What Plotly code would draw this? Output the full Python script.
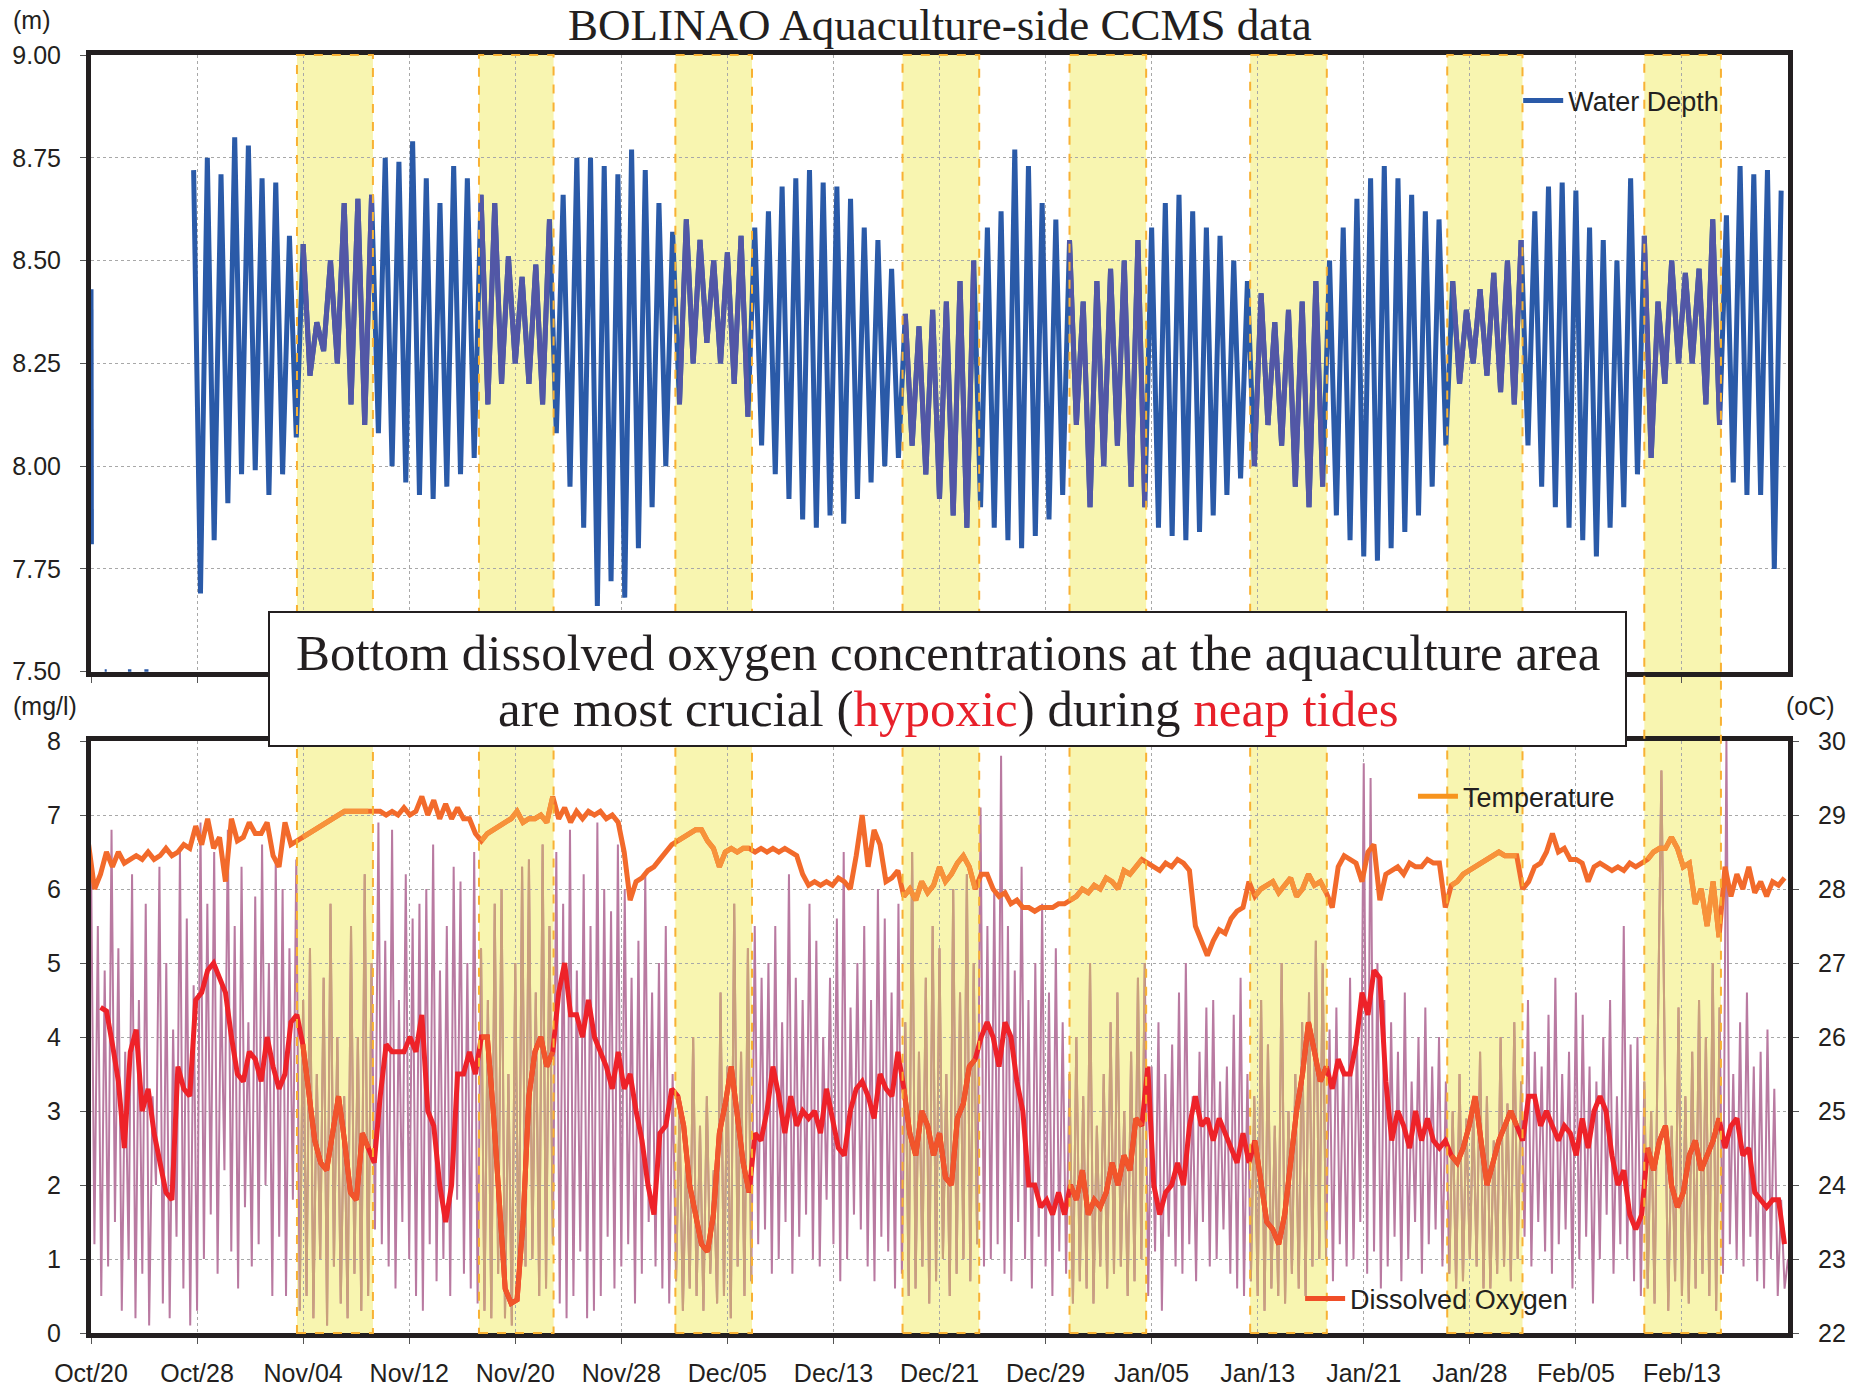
import pandas as pd
import plotly.graph_objects as go

# ---------------- data ----------------
T0 = pd.Timestamp("2012-10-20")
AXIS_END_DAY = 124.0

tick_labels = ["Oct/20", "Oct/28", "Nov/04", "Nov/12", "Nov/20", "Nov/28", "Dec/05", "Dec/13",
               "Dec/21", "Dec/29", "Jan/05", "Jan/13", "Jan/21", "Jan/28", "Feb/05", "Feb/13"]
tick_days = [0.0, 7.75, 15.5, 23.25, 31.0, 38.75, 46.5, 54.25,
             62.0, 69.75, 77.5, 85.25, 93.0, 100.75, 108.5, 116.25]

# neap-tide periods (days since Oct/20)
neap_start_day = [15.05, 28.35, 42.7, 59.3, 71.5, 84.7, 99.1, 113.5]
neap_end_day = [20.6, 33.8, 48.3, 64.9, 77.1, 90.3, 104.6, 119.1]

# water depth (m): first short record, then tidal highs/lows every half day
depth_early_day = [0.0, 0.03, None, 1.0, 1.15, None, 2.7, 2.95, None, 3.9, 4.2, None]
depth_early_m = [8.43, 7.81, None, 7.5, 7.5, None, 7.5, 7.5, None, 7.5, 7.5, None]
depth_tide_start_day = 7.5
depth_tide_step_day = 0.5
depth_tide_m = [
    8.72, 7.69, 8.75, 7.82, 8.71, 7.91, 8.80, 7.98, 8.78, 7.99, 8.70, 7.93, 8.69, 7.98, 8.56, 8.07,
    8.54, 8.22, 8.35, 8.28, 8.50, 8.25, 8.64, 8.15, 8.65, 8.10, 8.66, 8.08, 8.75, 8.00, 8.74, 7.96,
    8.79, 7.93, 8.70, 7.92, 8.64, 7.95, 8.73, 7.98, 8.70, 8.02, 8.66, 8.15, 8.64, 8.20, 8.51, 8.25,
    8.46, 8.20, 8.49, 8.15, 8.60, 8.08, 8.66, 7.95, 8.75, 7.85, 8.75, 7.66, 8.73, 7.72, 8.71, 7.68,
    8.77, 7.80, 8.72, 7.90, 8.64, 8.00, 8.57, 8.15, 8.60, 8.25, 8.55, 8.30, 8.50, 8.25, 8.52, 8.20,
    8.56, 8.12, 8.58, 8.05, 8.62, 7.98, 8.68, 7.92, 8.70, 7.87, 8.72, 7.85, 8.69, 7.88, 8.68, 7.86,
    8.65, 7.92, 8.58, 7.96, 8.55, 8.00, 8.48, 8.02, 8.37, 8.05, 8.34, 7.98, 8.38, 7.92, 8.40, 7.88,
    8.45, 7.85, 8.50, 7.90, 8.58, 7.85, 8.62, 7.82, 8.77, 7.80, 8.73, 7.83, 8.64, 7.87, 8.60, 7.93,
    8.55, 8.10, 8.40, 7.90, 8.45, 8.00, 8.48, 8.05, 8.50, 7.95, 8.55, 7.90, 8.58, 7.85, 8.64, 7.83,
    8.66, 7.82, 8.62, 7.84, 8.58, 7.88, 8.56, 7.93, 8.50, 7.97, 8.45, 8.00, 8.42, 8.10, 8.35, 8.05,
    8.38, 7.95, 8.40, 7.90, 8.45, 7.95, 8.50, 7.88, 8.58, 7.82, 8.65, 7.78, 8.70, 7.77, 8.73, 7.80,
    8.70, 7.84, 8.66, 7.88, 8.62, 7.95, 8.60, 8.05, 8.45, 8.20, 8.38, 8.25, 8.43, 8.22, 8.47, 8.18,
    8.50, 8.15, 8.55, 8.05, 8.62, 7.95, 8.68, 7.90, 8.69, 7.85, 8.67, 7.82, 8.58, 7.78, 8.55, 7.85,
    8.50, 7.90, 8.70, 7.98, 8.56, 8.02, 8.40, 8.20, 8.50, 8.25, 8.47, 8.25, 8.48, 8.15, 8.60, 8.10,
    8.61, 7.96, 8.73, 7.93, 8.71, 7.93, 8.72, 7.75, 8.67,
]

# raw bottom dissolved oxygen (mg/l), four readings per day
do_raw_start_day = 0.0
do_raw_step_day = 0.25
do_raw = [
    6.5, 1.2, 5.5, 0.5, 4.9, 0.9, 6.8, 1.5, 5.2, 0.3, 3.8, 1.0, 6.2, 0.2, 4.5, 0.8,
    5.8, 0.1, 3.2, 2.0, 6.3, 0.4, 5.0, 0.2, 4.1, 1.3, 6.5, 0.6, 5.6, 0.1, 4.7, 0.3,
    6.9, 1.0, 5.8, 1.6, 6.5, 0.8, 4.8, 2.2, 6.8, 1.1, 5.5, 0.6, 6.3, 1.7, 4.2, 0.9,
    5.9, 1.2, 6.6, 2.0, 5.0, 0.5, 6.4, 1.3, 6.0, 0.5, 5.2, 1.8, 6.4, 0.3, 4.5, 0.5,
    5.2, 0.2, 3.5, 1.0, 4.8, 0.1, 5.8, 0.9, 4.0, 0.4, 3.2, 0.2, 5.5, 0.8, 4.0, 0.3,
    6.2, 0.5, 5.0, 1.4, 6.9, 1.2, 5.3, 0.9, 6.8, 0.6, 4.5, 1.5, 6.2, 1.0, 5.6, 0.5,
    5.8, 0.3, 6.0, 1.2, 6.6, 0.7, 4.9, 1.0, 5.5, 0.5, 6.3, 1.8, 6.1, 0.8, 5.0, 0.6,
    6.5, 0.4, 5.2, 0.3, 4.5, 0.2, 5.8, 0.8, 6.0, 0.2, 3.5, 0.1, 5.0, 0.5, 6.3, 0.9,
    6.4, 1.0, 4.6, 0.5, 6.6, 0.6, 5.5, 1.2, 6.5, 0.4, 5.8, 0.2, 6.8, 0.5, 4.9, 1.1,
    6.2, 0.2, 5.5, 0.3, 6.9, 0.5, 6.0, 1.3, 5.7, 0.6, 6.6, 0.9, 6.0, 1.2, 4.8, 0.4,
    5.3, 0.8, 6.2, 1.5, 4.6, 0.9, 5.0, 0.6, 5.5, 0.4, 3.5, 0.7, 3.0, 0.3, 2.5, 0.6,
    4.0, 0.5, 2.8, 0.3, 3.2, 0.8, 2.2, 0.4, 4.6, 0.5, 3.6, 0.2, 5.8, 0.9, 3.8, 0.5,
    5.2, 0.7, 5.5, 1.2, 4.8, 1.4, 5.0, 0.8, 5.5, 1.0, 4.2, 1.5, 6.2, 0.8, 4.8, 1.3,
    4.5, 1.6, 5.8, 1.0, 5.3, 0.9, 4.0, 1.8, 4.8, 1.2, 5.6, 0.7, 6.5, 1.0, 4.4, 1.6,
    5.0, 1.4, 5.5, 0.9, 4.5, 0.7, 6.0, 1.3, 5.6, 1.1, 4.6, 0.6, 5.8, 0.8, 4.2, 0.5,
    6.5, 0.6, 3.8, 0.9, 4.8, 0.4, 5.5, 0.7, 5.2, 1.0, 3.5, 0.5, 6.0, 0.8, 4.6, 1.0,
    6.2, 0.7, 5.0, 1.2, 7.1, 0.9, 5.5, 1.0, 6.0, 1.2, 7.8, 0.8, 5.5, 0.7, 4.9, 1.5,
    6.3, 1.0, 4.5, 0.6, 5.0, 1.3, 5.8, 0.9, 4.6, 0.5, 5.2, 1.1, 4.2, 0.8, 3.5, 0.4,
    4.0, 0.7, 3.2, 0.6, 5.0, 0.4, 2.8, 0.9, 3.5, 0.6, 4.2, 0.8, 4.6, 0.9, 3.0, 0.5,
    3.8, 0.7, 4.8, 1.0, 5.0, 0.5, 3.6, 1.1, 4.2, 0.3, 3.5, 1.3, 3.9, 0.9, 4.6, 0.8,
    5.0, 1.2, 3.2, 0.7, 3.8, 1.5, 4.4, 0.9, 4.5, 1.0, 3.4, 1.4, 3.6, 0.8, 4.3, 0.6,
    4.8, 0.5, 3.5, 0.7, 3.2, 0.5, 4.5, 0.3, 3.9, 0.6, 2.8, 0.5, 5.0, 0.4, 3.0, 0.8,
    3.5, 0.6, 4.2, 0.5, 4.6, 0.9, 5.3, 1.0, 5.0, 1.0, 4.1, 0.7, 4.4, 1.2, 3.6, 0.9,
    4.8, 1.0, 4.0, 1.5, 7.7, 0.8, 7.5, 1.1, 5.0, 0.6, 4.5, 0.9, 4.2, 1.3, 3.8, 0.7,
    4.6, 1.0, 3.4, 1.5, 4.0, 0.8, 4.4, 1.2, 3.6, 1.4, 4.0, 0.9, 3.4, 0.8, 3.0, 0.6,
    3.5, 0.7, 2.9, 1.0, 3.0, 0.9, 3.8, 0.6, 3.2, 0.6, 2.6, 0.8, 4.0, 0.9, 3.1, 0.7,
    4.2, 1.0, 3.4, 1.3, 4.5, 0.9, 3.8, 1.5, 3.6, 1.1, 4.3, 0.8, 4.8, 1.2, 3.5, 1.4,
    3.8, 0.6, 4.6, 1.0, 4.3, 1.3, 3.6, 0.4, 3.4, 1.0, 4.0, 1.6, 4.5, 0.8, 3.2, 1.2,
    5.5, 1.0, 3.9, 0.7, 4.0, 0.5, 3.4, 0.6, 3.0, 0.4, 4.2, 7.6, 3.6, 0.3, 2.8, 0.7,
    4.4, 0.5, 3.2, 0.4, 3.8, 0.6, 4.5, 0.8, 4.0, 0.5, 5.0, 0.3, 4.4, 0.8, 8.0, 1.2,
    3.5, 1.0, 4.2, 0.9, 4.6, 1.3, 3.6, 0.7, 3.8, 0.6, 4.1, 1.0, 3.3, 0.5, 1.8, 0.6,
    1.0,
]

# daily-mean dissolved oxygen (mg/l) and temperature (oC), one reading every ~10.4 h
do_avg_start_day = 0.696
do_avg_step_day = 0.4348
do_avg = [
    4.4, 4.35, 3.9, 3.4, 2.5, 3.8, 4.1, 3.0, 3.3, 2.7, 2.3, 1.9, 1.8, 3.6, 3.3, 3.2,
    4.5, 4.6, 4.9, 5.0, 4.8, 4.6, 4.0, 3.5, 3.4, 3.8, 3.7, 3.4, 4.0, 3.6, 3.3, 3.5,
    4.2, 4.3, 3.9, 3.2, 2.6, 2.3, 2.2, 2.7, 3.2, 2.6, 1.9, 1.8, 2.7, 2.5, 2.3, 3.2,
    3.9, 3.8, 3.8, 3.8, 4.0, 3.8, 4.3, 3.0, 2.8, 2.0, 1.5, 2.0, 3.5, 3.5, 3.8, 3.5,
    4.0, 4.0, 3.0, 1.8, 0.6, 0.4, 0.45, 1.5, 3.2, 3.8, 4.0, 3.6, 3.8, 4.6, 5.0, 4.3,
    4.3, 4.0, 4.5, 4.0, 3.8, 3.6, 3.3, 3.8, 3.3, 3.5, 3.0, 2.6, 2.0, 1.6, 2.7, 2.8,
    3.3, 3.2, 2.8, 2.0, 1.6, 1.2, 1.1, 1.6, 2.7, 3.1, 3.6, 2.9, 2.3, 1.9, 2.7, 2.6,
    3.0, 3.6, 3.2, 2.7, 3.2, 2.8, 3.0, 2.9, 3.0, 2.7, 3.3, 2.9, 2.5, 2.4, 3.0, 3.3,
    3.4, 3.2, 2.9, 3.5, 3.3, 3.2, 3.8, 3.3, 2.7, 2.4, 3.0, 2.8, 2.4, 2.7, 2.1, 2.0,
    2.9, 3.1, 3.6, 3.7, 4.0, 4.2, 4.0, 3.6, 4.2, 4.0, 3.4, 3.0, 2.0, 2.0, 1.7, 1.8,
    1.6, 1.9, 1.6, 2.0, 1.8, 2.2, 1.6, 1.8, 1.7, 1.9, 2.3, 2.0, 2.4, 2.2, 2.9, 2.8,
    3.6, 2.0, 1.6, 1.9, 2.0, 2.3, 2.0, 2.8, 3.2, 2.8, 2.9, 2.6, 2.9, 2.7, 2.5, 2.3,
    2.7, 2.3, 2.6, 2.0, 1.5, 1.4, 1.2, 1.6, 2.3, 3.0, 3.5, 4.2, 3.8, 3.4, 3.6, 3.3,
    3.7, 3.5, 3.5, 3.9, 4.6, 4.3, 4.9, 4.8, 3.4, 2.6, 3.0, 2.8, 2.5, 3.0, 2.6, 2.9,
    2.6, 2.5, 2.6, 2.4, 2.3, 2.5, 2.8, 3.2, 2.6, 2.0, 2.3, 2.6, 2.8, 3.0, 2.8, 2.6,
    3.2, 3.2, 2.8, 3.0, 2.8, 2.6, 2.8, 2.7, 2.4, 2.9, 2.5, 3.0, 3.2, 3.0, 2.4, 2.0,
    2.2, 1.6, 1.4, 1.6, 2.5, 2.2, 2.6, 2.8, 2.0, 1.7, 1.9, 2.4, 2.6, 2.2, 2.4, 2.6,
    2.9, 2.5, 2.8, 2.9, 2.4, 2.5, 1.9, 1.8, 1.7, 1.8, 1.8, 1.2,
]

temp_start_day = -0.174
temp_step_day = 0.4348
temp_c = [
    28.6, 28.0, 28.2, 28.5, 28.3, 28.5, 28.35, 28.4, 28.45, 28.4, 28.5, 28.4, 28.45, 28.55, 28.45, 28.5,
    28.6, 28.55, 28.85, 28.6, 28.95, 28.55, 28.7, 28.1, 28.95, 28.65, 28.7, 28.9, 28.75, 28.75, 28.9, 28.45,
    28.3, 28.9, 28.6, 28.65, 28.7, 28.75, 28.8, 28.85, 28.9, 28.95, 29.0, 29.05, 29.05, 29.05, 29.05, 29.05,
    29.05, 29.05, 29.0, 29.05, 29.0, 29.1, 29.0, 29.05, 29.25, 29.0, 29.2, 28.95, 29.15, 28.95, 29.1, 28.95,
    28.95, 28.75, 28.65, 28.75, 28.8, 28.85, 28.9, 28.95, 29.05, 28.9, 28.95, 28.95, 29.0, 28.9, 29.25, 28.95,
    29.1, 28.9, 29.05, 28.95, 29.05, 29.0, 29.05, 28.95, 29.0, 28.9, 28.5, 27.85, 28.1, 28.15, 28.25, 28.3,
    28.4, 28.5, 28.6, 28.65, 28.7, 28.75, 28.8, 28.8, 28.65, 28.55, 28.3, 28.5, 28.55, 28.5, 28.55, 28.55,
    28.5, 28.55, 28.5, 28.55, 28.5, 28.55, 28.5, 28.45, 28.2, 28.05, 28.1, 28.05, 28.1, 28.05, 28.15, 28.1,
    28.0, 28.45, 29.0, 28.3, 28.8, 28.6, 28.1, 28.15, 28.25, 27.9, 28.0, 27.85, 28.1, 27.95, 28.05, 28.3,
    28.1, 28.2, 28.35, 28.45, 28.3, 28.0, 28.2, 28.2, 28.0, 27.9, 27.95, 27.8, 27.85, 27.75, 27.75, 27.7,
    27.75, 27.75, 27.75, 27.8, 27.8, 27.85, 27.9, 28.0, 27.95, 28.05, 28.0, 28.15, 28.1, 28.0, 28.25, 28.2,
    28.3, 28.4, 28.35, 28.3, 28.25, 28.35, 28.3, 28.4, 28.35, 28.25, 27.5, 27.3, 27.1, 27.3, 27.45, 27.4,
    27.6, 27.7, 27.75, 28.1, 27.9, 28.0, 28.05, 28.1, 27.95, 28.05, 28.15, 27.9, 28.0, 28.2, 28.05, 28.1,
    27.95, 27.75, 28.3, 28.45, 28.4, 28.35, 28.1, 28.5, 28.6, 27.85, 28.2, 28.25, 28.3, 28.2, 28.35, 28.3,
    28.3, 28.4, 28.35, 28.35, 27.75, 28.05, 28.1, 28.2, 28.25, 28.3, 28.35, 28.4, 28.45, 28.5, 28.45, 28.45,
    28.45, 28.0, 28.1, 28.3, 28.35, 28.5, 28.75, 28.5, 28.55, 28.4, 28.4, 28.35, 28.1, 28.3, 28.35, 28.3,
    28.25, 28.3, 28.25, 28.35, 28.3, 28.35, 28.4, 28.5, 28.55, 28.55, 28.7, 28.55, 28.3, 28.35, 27.8, 28.0,
    27.5, 28.1, 27.35, 28.3, 27.9, 28.2, 28.0, 28.3, 27.95, 28.1, 27.9, 28.1, 28.05, 28.15,
]

# ---------------- styling ----------------
BLUE, BLUE_BAND = "#2A5AA8", "#5257A6"
MAUVE, MAUVE_BAND = "#B97AA1", "#C9A07C"
RED, RED_BAND = "#EE2229", "#F1552B"
ORANGE, ORANGE_BAND = "#F26A2B", "#F7923A"
BAND_FILL, BAND_EDGE = "#F8F5B0", "#F8B133"
INK = "#231F20"
SANS = "Liberation Sans, Arial, sans-serif"
SERIF = "Liberation Serif, Times New Roman, serif"


def to_dt(days):
    return [None if d is None else T0 + pd.Timedelta(days=d) for d in days]


def regular_days(start, step, n):
    return [start + i * step for i in range(n)]


def in_neap(d):
    return d is not None and any(s <= d <= e for s, e in zip(neap_start_day, neap_end_day))


def band_only(days, vals):
    return [v if in_neap(d) else None for d, v in zip(days, vals)]


depth_days = depth_early_day + regular_days(depth_tide_start_day, depth_tide_step_day, len(depth_tide_m))
depth_vals = depth_early_m + depth_tide_m
raw_days = regular_days(do_raw_start_day, do_raw_step_day, len(do_raw))
avg_days = regular_days(do_avg_start_day, do_avg_step_day, len(do_avg))
tmp_days = regular_days(temp_start_day, temp_step_day, len(temp_c))

fig = go.Figure()


def add_pair(days, vals, col, col_band, width, xa, ya):
    x = to_dt(days)
    fig.add_trace(go.Scatter(x=x, y=vals, mode="lines", line=dict(color=col, width=width),
                             xaxis=xa, yaxis=ya, showlegend=False, connectgaps=False, hoverinfo="skip"))
    fig.add_trace(go.Scatter(x=x, y=band_only(days, vals), mode="lines",
                             line=dict(color=col_band, width=width),
                             xaxis=xa, yaxis=ya, showlegend=False, connectgaps=False, hoverinfo="skip"))


add_pair(depth_days, depth_vals, BLUE, BLUE_BAND, 5, "x", "y")
add_pair(raw_days, do_raw, MAUVE, MAUVE_BAND, 2, "x2", "y2")
add_pair(tmp_days, temp_c, ORANGE, ORANGE_BAND, 5, "x2", "y3")
add_pair(avg_days, do_avg, RED, RED_BAND, 5, "x2", "y2")

# legend entries
fig.add_trace(go.Scatter(x=[None], y=[None], mode="lines", name="Water Depth",
                         line=dict(color=BLUE, width=5), xaxis="x", yaxis="y", legend="legend"))
fig.add_trace(go.Scatter(x=[None], y=[None], mode="lines", name="Temperature",
                         line=dict(color="#F7941E", width=5), xaxis="x2", yaxis="y3", legend="legend2"))
fig.add_trace(go.Scatter(x=[None], y=[None], mode="lines", name="Dissolved Oxygen",
                         line=dict(color="#F04E28", width=5), xaxis="x2", yaxis="y2", legend="legend3"))

# neap-tide bands spanning both panels
shapes = []
for s, e in zip(neap_start_day, neap_end_day):
    x0, x1 = to_dt([s, e])
    shapes.append(dict(type="rect", xref="x", yref="paper", x0=x0, x1=x1, y0=0, y1=1,
                       fillcolor=BAND_FILL, line=dict(width=0), layer="below"))
    shapes.append(dict(type="rect", xref="x", yref="paper", x0=x0, x1=x1, y0=0, y1=1,
                       fillcolor="rgba(0,0,0,0)", line=dict(color=BAND_EDGE, width=2, dash="dash"),
                       layer="above"))

tickvals = to_dt(tick_days)
xrange_ = to_dt([0.0, AXIS_END_DAY])

common_x = dict(type="date", range=xrange_, tickmode="array", tickvals=tickvals, ticktext=tick_labels,
                showgrid=True, gridcolor="#A8A8A8", griddash="dot", gridwidth=1,
                showline=True, linecolor=INK, linewidth=5, mirror=True,
                ticks="outside", ticklen=6, tickcolor="#555555", tickwidth=1,
                tickfont=dict(family=SANS, size=25, color=INK), zeroline=False)
common_y = dict(showgrid=True, gridcolor="#A8A8A8", griddash="dot", gridwidth=1,
                showline=True, linecolor=INK, linewidth=5, mirror=True,
                ticks="outside", ticklen=6, tickcolor="#555555", tickwidth=1,
                tickfont=dict(family=SANS, size=25, color=INK), zeroline=False)

legend_common = dict(xanchor="left", yanchor="middle", bgcolor="rgba(0,0,0,0)",
                     font=dict(family=SANS, size=27, color=INK), itemwidth=40)

fig.update_layout(
    width=1865, height=1399,
    margin=dict(l=90, r=77, t=55, b=55),
    paper_bgcolor="white", plot_bgcolor="rgba(0,0,0,0)",
    shapes=shapes,
    xaxis=dict(common_x, anchor="y", showticklabels=False),
    xaxis2=dict(common_x, anchor="y2", matches="x", ticklabelstandoff=8),
    yaxis=dict(common_y, domain=[0.5175, 1.0], range=[7.5, 9.0], tickmode="array",
               tickvals=[7.5, 7.75, 8.0, 8.25, 8.5, 8.75, 9.0], tickformat=".2f",
               anchor="x", ticklabelstandoff=14),
    yaxis2=dict(common_y, domain=[0.0, 0.4632], range=[0, 8], dtick=1, anchor="x2",
                ticklabelstandoff=14),
    yaxis3=dict(common_y, overlaying="y2", side="right", range=[22, 30], dtick=1, anchor="x2",
                showgrid=False, mirror=False, ticklabelstandoff=14),
    legend=dict(legend_common, x=0.841, y=0.964),
    legend2=dict(legend_common, x=0.779, y=0.4197),
    legend3=dict(legend_common, x=0.7125, y=0.0266),
    annotations=[
        dict(text="BOLINAO Aquaculture-side CCMS data", xref="paper", yref="paper",
             x=0.5, y=1.0233, xanchor="center", yanchor="middle", showarrow=False,
             font=dict(family=SERIF, size=45, color=INK)),
        dict(text="(m)", xref="paper", yref="paper", x=-0.0353, y=1.027, xanchor="center",
             yanchor="middle", showarrow=False, font=dict(family=SANS, size=25, color=INK)),
        dict(text="(mg/l)", xref="paper", yref="paper", x=-0.0271, y=0.491, xanchor="center",
             yanchor="middle", showarrow=False, font=dict(family=SANS, size=25, color=INK)),
        dict(text="(oC)", xref="paper", yref="paper", x=1.0135, y=0.491, xanchor="center",
             yanchor="middle", showarrow=False, font=dict(family=SANS, size=25, color=INK)),
        # message box
        dict(text=" ", xref="paper", yref="paper", x=0.5047, y=0.512, xanchor="center",
             yanchor="middle", showarrow=False, bgcolor="white", bordercolor=INK, borderwidth=2,
             borderpad=0, width=1355, height=132, font=dict(family=SERIF, size=20, color=INK)),
        dict(text="Bottom dissolved oxygen concentrations at the aquaculture area",
             xref="paper", yref="paper", x=0.5053, y=0.5322, xanchor="center", yanchor="middle",
             showarrow=False, font=dict(family=SERIF, size=51, color=INK)),
        dict(text="are most crucial (<span style='color:#E8202A'>hypoxic</span>) during "
                  "<span style='color:#E8202A'>neap tides</span>",
             xref="paper", yref="paper", x=0.5053, y=0.488, xanchor="center", yanchor="middle",
             showarrow=False, font=dict(family=SERIF, size=51, color=INK)),
    ],
)

fig.write_html("out.html", config={"displayModeBar": False},
               post_script="document.body.style.margin='0';")
